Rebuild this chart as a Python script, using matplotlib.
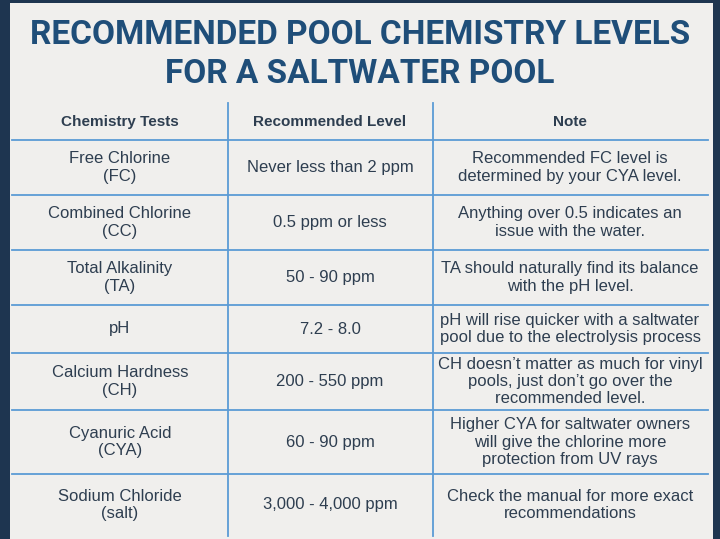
import matplotlib.pyplot as plt

title_lines = ["RECOMMENDED POOL CHEMISTRY LEVELS", "FOR A SALTWATER POOL"]
headers = ["Chemistry Tests", "Recommended Level", "Note"]
tests = ["Free Chlorine\n(FC)", "Combined Chlorine\n(CC)", "Total Alkalinity\n(TA)", "pH",
         "Calcium Hardness\n(CH)", "Cyanuric Acid\n(CYA)", "Sodium Chloride\n(salt)"]
levels = ["Never less than 2 ppm", "0.5 ppm or less", "50 - 90 ppm", "7.2 - 8.0",
          "200 - 550 ppm", "60 - 90 ppm", "3,000 - 4,000 ppm"]
notes = ["Recommended FC level is\ndetermined by your CYA level.",
         "Anything over 0.5 indicates an\nissue with the water.",
         "TA should naturally find its balance\nwith the pH level.",
         "pH will rise quicker with a saltwater\npool due to the electrolysis process",
         "CH doesn\u2019t matter as much for vinyl\npools, just don\u2019t go over the\nrecommended level.",
         "Higher CYA for saltwater owners\nwill give the chlorine more\nprotection from UV rays",
         "Check the manual for more exact\nrecommendations"]

row_edges = [103, 140, 195, 250, 305, 353, 410, 474, 536]
col_edges = [12, 228, 433, 708]
col_centers = [120, 330, 570]

fig = plt.figure(figsize=(7.2, 5.39), dpi=100)
fig.patch.set_facecolor("#1e3550")
ax = fig.add_axes([0, 0, 1, 1])
ax.set_xlim(0, 720)
ax.set_ylim(539, 0)
ax.axis("off")
ax.add_patch(plt.Rectangle((10, 3), 703, 536, facecolor="#f0efed", edgecolor="none"))

line_col = "#5b9bd5"
text_col = "#2e3e50"
body = "Liberation Sans"
for y, t in zip([35, 74], title_lines):
    ax.text(360, y, t, ha="center", va="center", fontsize=24, fontweight="bold",
            color="#1f4e79", family="Roboto")

for y in row_edges[1:-1]:
    ax.plot([col_edges[0], col_edges[-1]], [y, y], color=line_col, lw=1.3)
for x in col_edges[1:-1]:
    ax.plot([x, x], [row_edges[0], row_edges[-1]], color=line_col, lw=1.3)

for c, h in zip(col_centers, headers):
    ax.text(c, 122, h, ha="center", va="center", fontsize=11, fontweight="bold",
            color=text_col, family=body)

for i in range(len(tests)):
    yc = (row_edges[i + 1] + row_edges[i + 2]) / 2
    for c, t in zip(col_centers, [tests[i], levels[i], notes[i]]):
        ax.text(c, yc, t, ha="center", va="center", fontsize=12, color=text_col,
                linespacing=1.2, family=body)

fig.savefig("out.png", dpi=100, facecolor=fig.get_facecolor())
